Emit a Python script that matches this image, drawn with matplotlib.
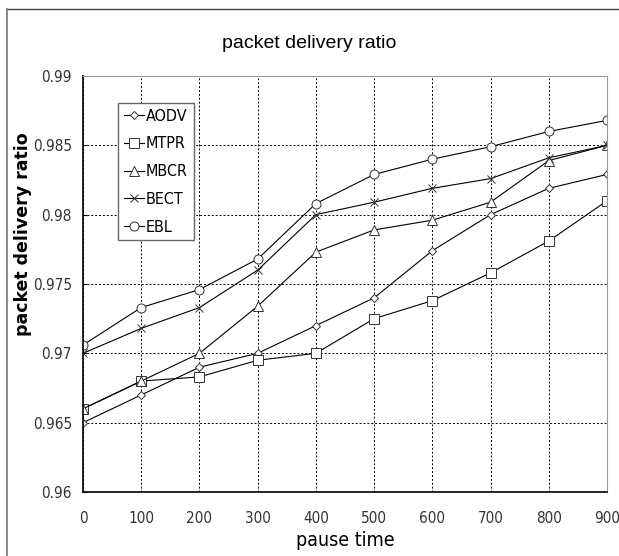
import matplotlib
matplotlib.use("Agg")
import matplotlib.pyplot as plt
from matplotlib.lines import Line2D
from matplotlib.font_manager import FontProperties, fontManager

pause_time = [0, 100, 200, 300, 400, 500, 600, 700, 800, 900]

aodv = [0.965, 0.967, 0.969, 0.970, 0.972, 0.974, 0.9774, 0.980, 0.9819, 0.9829]
mtpr = [0.966, 0.968, 0.9683, 0.9695, 0.970, 0.9725, 0.9738, 0.9758, 0.9781, 0.981]
mbcr = [0.966, 0.968, 0.970, 0.9734, 0.9773, 0.9789, 0.9796, 0.9809, 0.9839, 0.985]
bect = [0.970, 0.9718, 0.9733, 0.976, 0.980, 0.9809, 0.9819, 0.9826, 0.9841, 0.985]
ebl = [0.9706, 0.9733, 0.9746, 0.9768, 0.9808, 0.9829, 0.984, 0.9849, 0.986, 0.9868]

series = [("AODV", aodv, "D", 4.5), ("MTPR", mtpr, "s", 6.5), ("MBCR", mbcr, "^", 7),
          ("BECT", bect, "x", 6), ("EBL", ebl, "o", 6.5)]

# condensed face if the system has one
cond = [f for f in fontManager.ttflist
        if "Condensed" in f.fname and f.weight in (400, "normal") and "Oblique" not in f.fname]
if cond:
    narrow = FontProperties(fname=cond[0].fname)
else:
    narrow = FontProperties(family="Liberation Sans")

fig = plt.figure(figsize=(6.19, 5.56), dpi=100)
# image border (only top and left visible in the reference)
fig.lines.append(Line2D([7 / 619, 1.0], [1 - 9 / 556] * 2, transform=fig.transFigure,
                        color="#444444", linewidth=1.0))
fig.lines.append(Line2D([7 / 619] * 2, [0.0, 1 - 9 / 556], transform=fig.transFigure,
                        color="#777777", linewidth=1.2))

ax = fig.add_axes([83 / 619, 64 / 556, 524 / 619, 416 / 556])

for name, vals, mk, ms in series:
    ax.plot(pause_time, vals, color="black", linewidth=0.8, marker=mk, markersize=ms,
            markerfacecolor="white", markeredgecolor="#333333", markeredgewidth=0.7,
            label=name)

ax.set_xlim(0, 900)
ax.set_ylim(0.96, 0.99)
ax.set_xticks(pause_time)
ax.set_yticks([0.96, 0.965, 0.97, 0.975, 0.98, 0.985, 0.99])
ax.set_yticklabels(["0.96", "0.965", "0.97", "0.975", "0.98", "0.985", "0.99"])
ax.grid(True, color="black", linestyle=(0, (2, 2)), linewidth=0.7)
ax.tick_params(axis="x", length=0, pad=14)
ax.tick_params(axis="y", direction="in", length=3, pad=8)
for lbl in ax.get_xticklabels() + ax.get_yticklabels():
    lbl.set_fontproperties(narrow)
    lbl.set_fontsize(11)
    lbl.set_color("#333333")
ax.spines["top"].set_color("#999999")
ax.spines["right"].set_color("#999999")
ax.spines["left"].set_linewidth(1.2)
ax.spines["bottom"].set_linewidth(1.2)

fig.text(0.5, 1 - 43 / 556, "packet delivery ratio", family="Liberation Sans",
         fontsize=14, ha="center", va="center")
xl = ax.set_xlabel("pause time", fontproperties=narrow)
xl.set_fontsize(14)
ax.xaxis.set_label_coords(0.5, -0.094)
ax.set_ylabel("packet delivery ratio", fontsize=12.5, fontweight="bold")
ax.yaxis.set_label_coords(-0.097, 0.62)

legend_font = narrow.copy()
legend_font.set_size(11.5)
leg = ax.legend(loc="upper left", bbox_to_anchor=(35 / 524, 389 / 416), fancybox=False,
                framealpha=1, edgecolor="#666666", handlelength=1.25,
                handletextpad=0.15, borderpad=0.35, labelspacing=0.8,
                borderaxespad=0, prop=legend_font)
leg.get_frame().set_linewidth(1.0)

fig.savefig("out.png", dpi=100)
